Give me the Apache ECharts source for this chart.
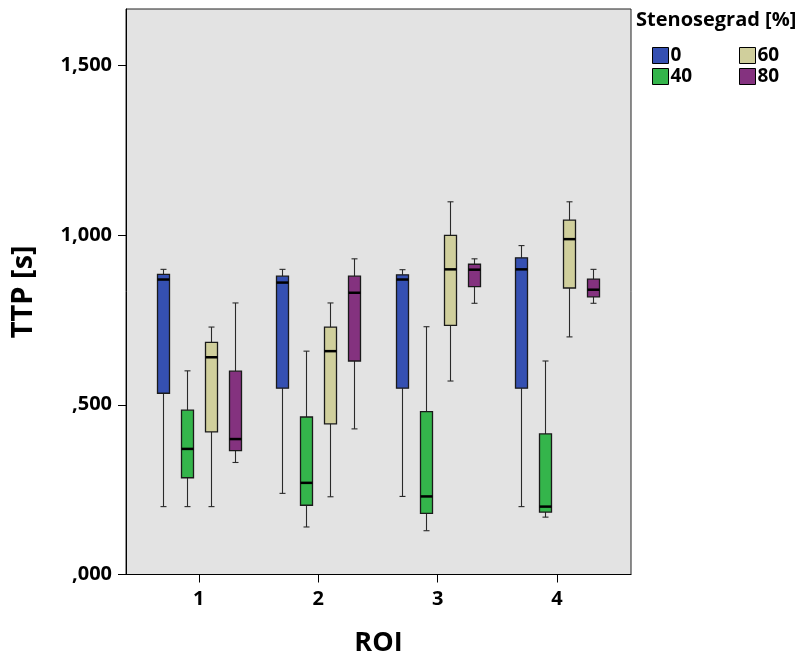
<!DOCTYPE html>
<html><head><meta charset="utf-8">
<script src="https://cdn.jsdelivr.net/npm/echarts@6/dist/echarts.min.js"></script>
<style>html,body{margin:0;padding:0;background:#fff}#c{width:802px;height:663px}</style>
</head><body><div id="c"></div>
<script>
// ROI categories on the x axis
const roiCategories = ['1', '2', '3', '4'];
const roiPositions = [1, 2, 3, 4];
// Stenosis groups (legend)
const stenosisGroups = ['0', '40', '60', '80'];
// Box statistics per ROI: [min, q1, median, q3, max]
const box0  = [[200, 534, 869, 884, 899], [239, 549, 860, 879, 899], [230, 549, 869, 883, 898], [200, 549, 899, 933, 969]];
const box40 = [[200, 285, 370, 484, 600], [140, 204, 270, 464, 658], [129, 180, 230, 480, 730], [169, 184, 200, 414, 629]];
const box60 = [[200, 420, 640, 684, 729], [229, 444, 658, 729, 800], [570, 734, 899, 999, 1098], [700, 844, 988, 1044, 1098]];
const box80 = [[330, 365, 399, 599, 800], [429, 629, 830, 879, 930], [799, 848, 898, 914, 930], [799, 818, 839, 870, 899]];
// Y axis ticks
const yTickValues = [0, 500, 1000, 1500];
const yTickLabels = [',000', ',500', '1,000', '1,500'];

const groupBoxes = [box0, box40, box60, box80];
const groupColors = ['#3550b2', '#34b54b', '#d0cf9c', '#84327f'];
const groupOffsets = [-36, -12, 12, 36];
const FONT = 'Open Sans';

function makeRender(offset, color) {
  return function (params, api) {
    const x = api.value(0);
    const lo = api.coord([x, api.value(1)]);
    const q1 = api.coord([x, api.value(2)]);
    const md = api.coord([x, api.value(3)]);
    const q3 = api.coord([x, api.value(4)]);
    const hi = api.coord([x, api.value(5)]);
    const cx = Math.round(lo[0] + offset) + 0.5;
    const hw = 6, cw = 3;
    const wStyle = { stroke: '#2a2a2a', lineWidth: 1.1 };
    return {
      type: 'group',
      children: [
        { type: 'line', shape: { x1: cx, y1: hi[1], x2: cx, y2: q3[1] }, style: wStyle },
        { type: 'line', shape: { x1: cx, y1: q1[1], x2: cx, y2: lo[1] }, style: wStyle },
        { type: 'line', shape: { x1: cx - cw, y1: hi[1], x2: cx + cw, y2: hi[1] }, style: wStyle },
        { type: 'line', shape: { x1: cx - cw, y1: lo[1], x2: cx + cw, y2: lo[1] }, style: wStyle },
        { type: 'rect', shape: { x: cx - hw, y: q3[1], width: 2 * hw, height: q1[1] - q3[1] },
          style: { fill: color, stroke: '#1a1a1a', lineWidth: 1.3 } },
        { type: 'line', shape: { x1: cx - hw, y1: md[1], x2: cx + hw, y2: md[1] },
          style: { stroke: '#000', lineWidth: 2.5 } }
      ]
    };
  };
}

const series = stenosisGroups.map(function (g, i) {
  return {
    name: g,
    type: 'custom',
    renderItem: makeRender(groupOffsets[i], groupColors[i]),
    itemStyle: { color: groupColors[i], borderColor: '#000', borderWidth: 1 },
    encode: { x: 0, y: [1, 2, 3, 4, 5] },
    data: groupBoxes[i].map(function (b, k) { return [roiPositions[k]].concat(b); })
  };
});

const legendCommon = {
  orient: 'vertical', top: 46, padding: 0, itemGap: 2, itemWidth: 16, itemHeight: 16,
  icon: 'rect', selectedMode: false,
  itemStyle: { borderColor: '#000', borderWidth: 1 },
  textStyle: { fontFamily: FONT, fontWeight: 'bold', fontSize: 19, color: '#000', padding: [0, 0, 0, -3] }
};

const chart = echarts.init(document.getElementById('c'), null, { renderer: 'canvas' });
chart.setOption({
  backgroundColor: '#fff',
  animation: false,
  title: {
    text: 'Stenosegrad [%]', left: 636, top: 10, padding: 0,
    textStyle: { fontFamily: FONT, fontWeight: 'bold', fontSize: 20, color: '#000' }
  },
  legend: [
    Object.assign({}, legendCommon, { left: 652, data: [stenosisGroups[0], stenosisGroups[1]] }),
    Object.assign({}, legendCommon, { left: 739, data: [stenosisGroups[2], stenosisGroups[3]] })
  ],
  grid: {
    left: 126, right: 171, top: 9, bottom: 88.5, show: true,
    backgroundColor: '#e3e3e3', borderColor: '#222', borderWidth: 1
  },
  xAxis: {
    type: 'value', min: 0.39, max: 4.62,
    name: 'ROI', nameLocation: 'middle', nameGap: 55,
    nameTextStyle: { fontFamily: FONT, fontWeight: 'bold', fontSize: 27, color: '#000' },
    axisLine: { show: true, lineStyle: { color: '#000', width: 1 } },
    axisTick: { show: true, length: 8, customValues: roiPositions, lineStyle: { color: '#000' } },
    axisLabel: {
      customValues: roiPositions, margin: 15,
      fontFamily: FONT, fontWeight: 'bold', fontSize: 20, color: '#000',
      formatter: function (v) { return roiCategories[roiPositions.indexOf(v)]; }
    },
    splitLine: { show: false }
  },
  yAxis: {
    type: 'value', min: 0, max: 1666,
    name: 'TTP [s]', nameLocation: 'middle', nameGap: 88,
    nameTextStyle: { fontFamily: FONT, fontWeight: 'bold', fontSize: 29, color: '#000' },
    axisLine: { show: true, lineStyle: { color: '#000', width: 1 } },
    axisTick: { show: true, length: 8, customValues: yTickValues, lineStyle: { color: '#000' } },
    axisLabel: {
      customValues: yTickValues, margin: 14,
      fontFamily: FONT, fontWeight: 'bold', fontSize: 20, color: '#000',
      formatter: function (v) { return yTickLabels[yTickValues.indexOf(v)]; }
    },
    splitLine: { show: false }
  },
  series: series
});
</script>
</body></html>
